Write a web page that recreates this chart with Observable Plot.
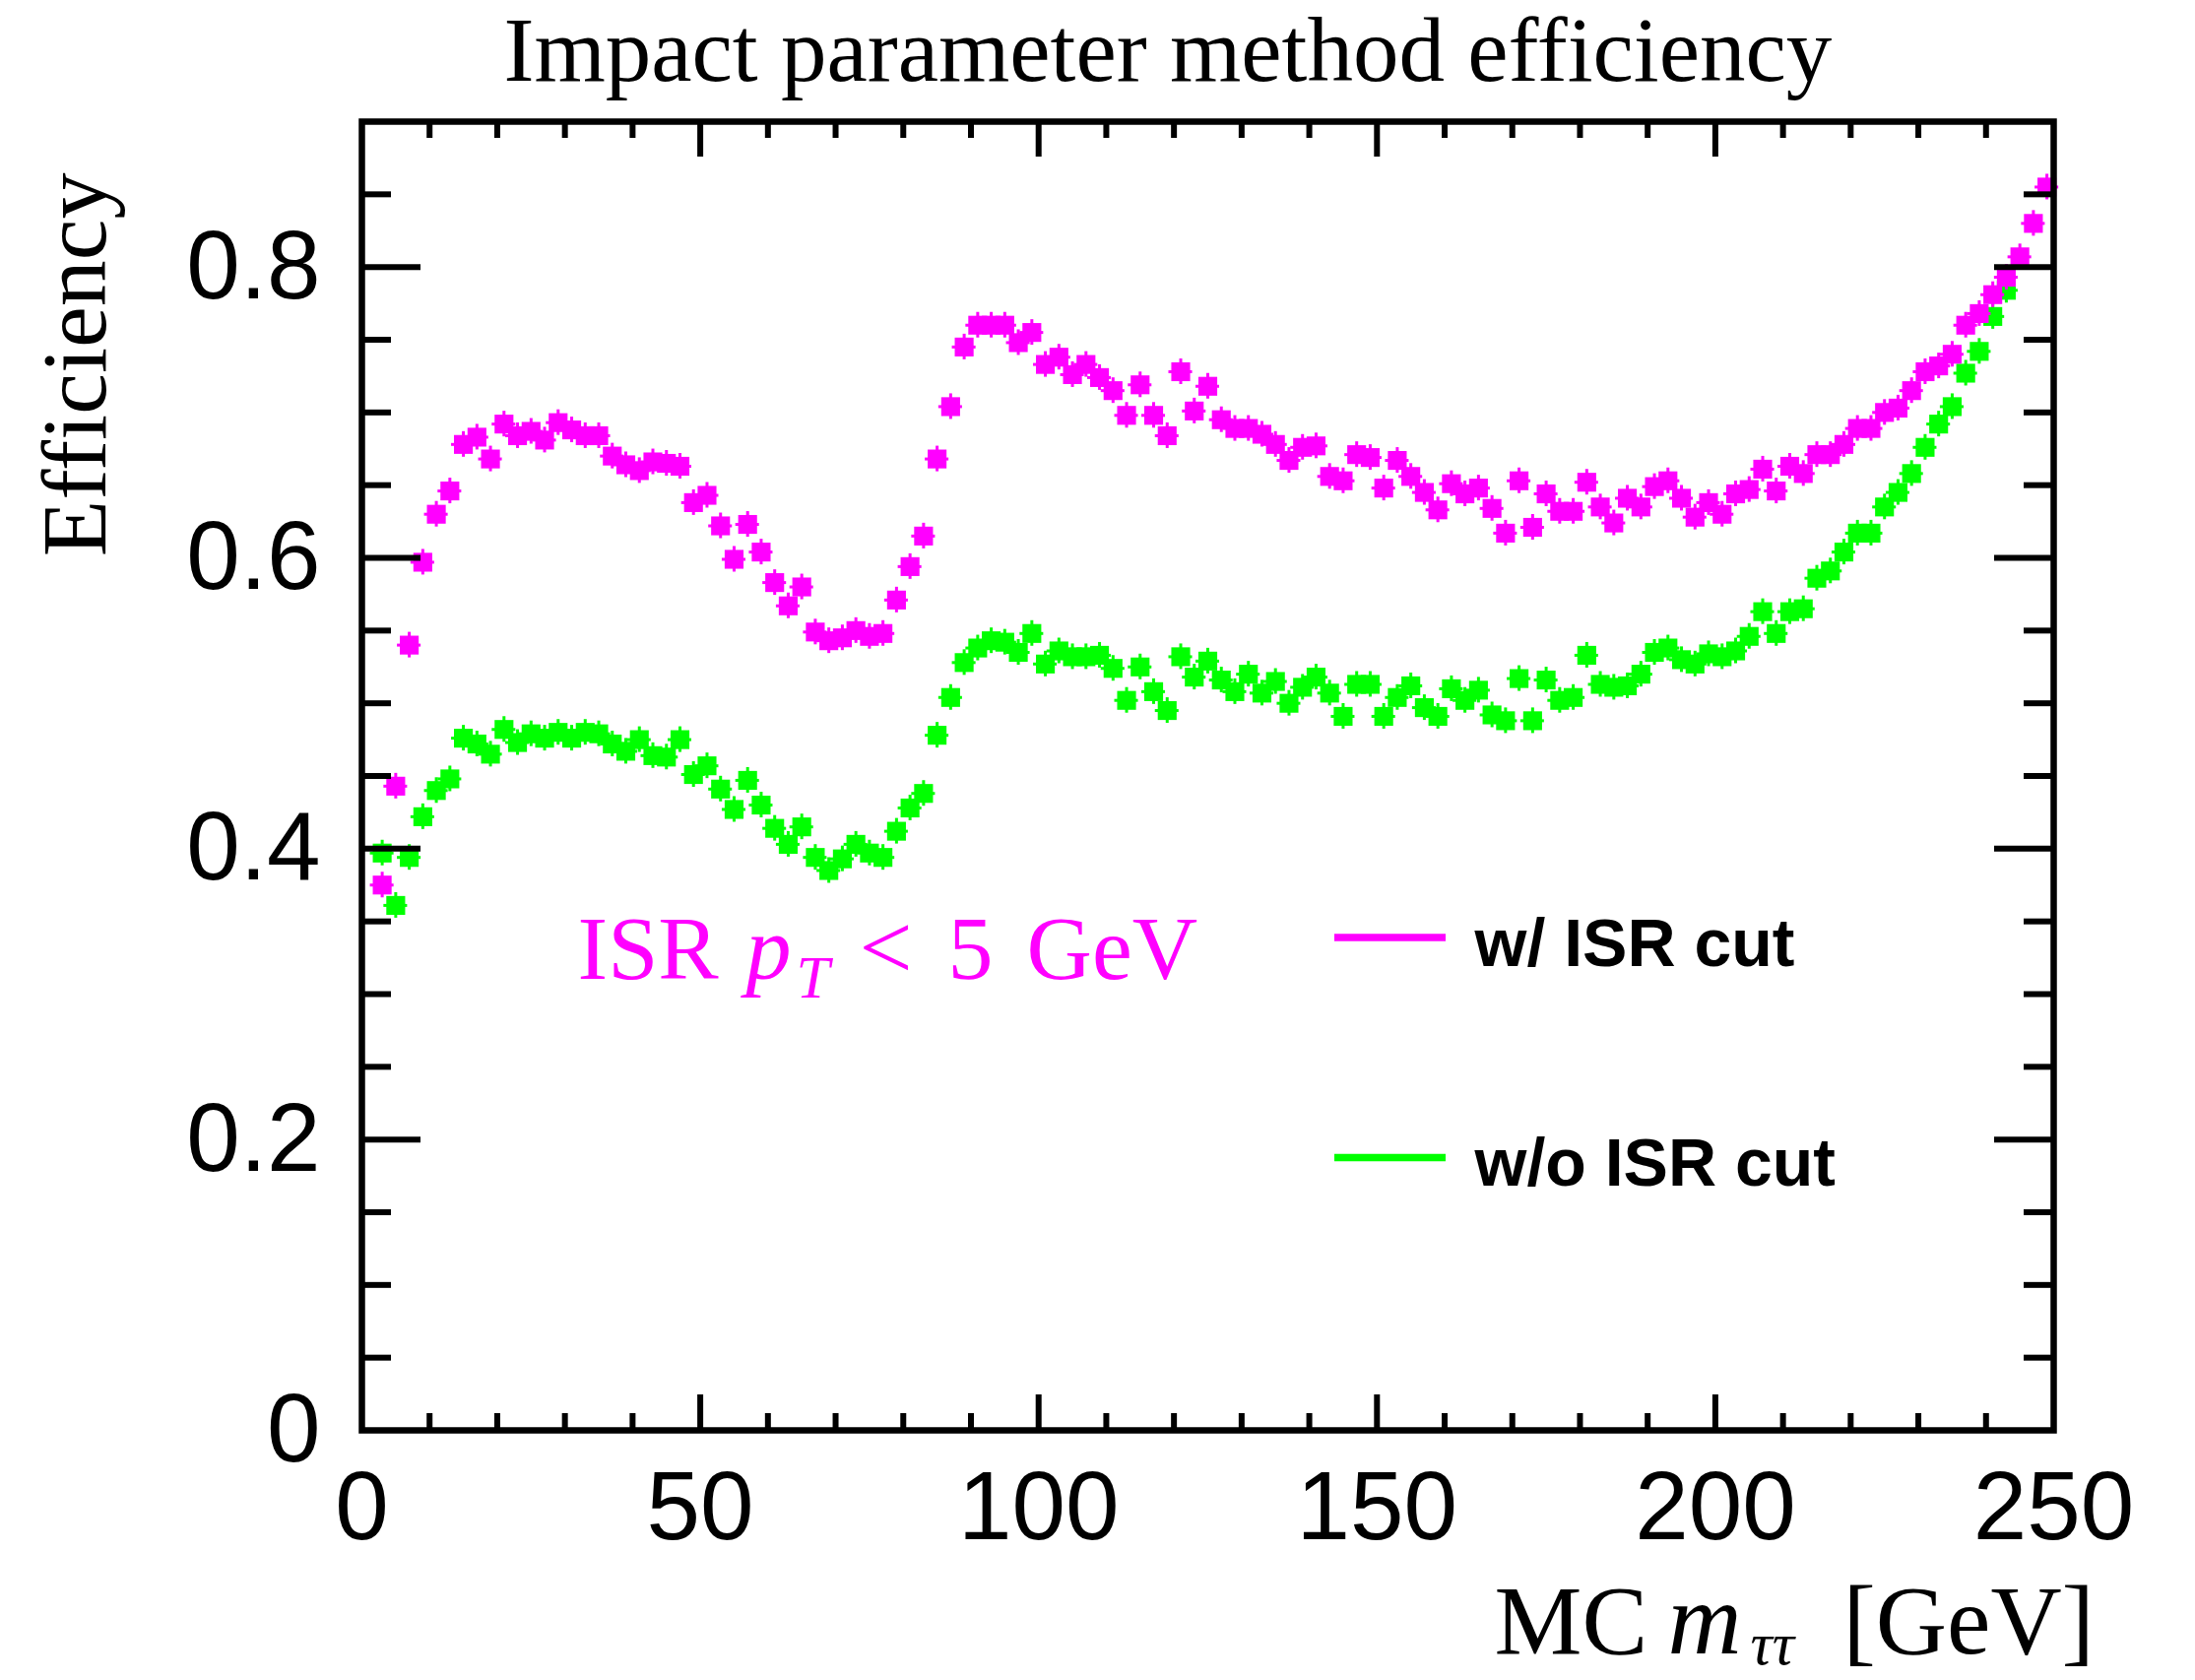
<!DOCTYPE html>
<html>
<head>
<meta charset="utf-8">
<script src="https://cdn.jsdelivr.net/npm/d3@7"></script>
<script src="https://cdn.jsdelivr.net/npm/@observablehq/plot@0.6"></script>
<style>
  html, body { margin: 0; padding: 0; background: #fff; overflow: hidden; }
  #chart svg { display: block; }
</style>
</head>
<body>
<div id="chart"></div>
<script>
// MC di-tau mass bin centres [GeV] (2 GeV bins)
const massBins = [
  3, 5, 7, 9, 11, 13, 15, 17, 19, 21, 23, 25, 27, 29, 31, 33, 35, 37, 39, 41,
  43, 45, 47, 49, 51, 53, 55, 57, 59, 61, 63, 65, 67, 69, 71, 73, 75, 77, 79, 81,
  83, 85, 87, 89, 91, 93, 95, 97, 99, 101, 103, 105, 107, 109, 111, 113, 115, 117, 119, 121,
  123, 125, 127, 129, 131, 133, 135, 137, 139, 141, 143, 145, 147, 149, 151, 153, 155, 157, 159, 161,
  163, 165, 167, 169, 171, 173, 175, 177, 179, 181, 183, 185, 187, 189, 191, 193, 195, 197, 199, 201,
  203, 205, 207, 209, 211, 213, 215, 217, 219, 221, 223, 225, 227, 229, 231, 233, 235, 237, 239, 241,
  243, 245, 247, 249
];

// efficiency with the ISR pT < 5 GeV requirement
const effWithCut = [
  0.375, 0.443, 0.540, 0.597, 0.630, 0.646, 0.678, 0.683, 0.668, 0.692,
  0.684, 0.687, 0.681, 0.693, 0.688, 0.684, 0.684, 0.670, 0.664, 0.660,
  0.666, 0.665, 0.663, 0.638, 0.643, 0.622, 0.599, 0.623, 0.604, 0.583,
  0.567, 0.580, 0.549, 0.543, 0.545, 0.550, 0.546, 0.548, 0.571, 0.594,
  0.615, 0.668, 0.704, 0.745, 0.760, 0.760, 0.760, 0.748, 0.755, 0.733,
  0.738, 0.726, 0.733, 0.724, 0.715, 0.698, 0.719, 0.698, 0.684, 0.728,
  0.701, 0.718, 0.695, 0.689, 0.689, 0.685, 0.678, 0.667, 0.676, 0.677,
  0.656, 0.653, 0.671, 0.669, 0.648, 0.667, 0.656, 0.645, 0.633, 0.651,
  0.644, 0.648, 0.634, 0.617, 0.653, 0.621, 0.644, 0.632, 0.632, 0.652,
  0.635, 0.624, 0.641, 0.635, 0.649, 0.653, 0.641, 0.628, 0.638, 0.630,
  0.644, 0.647, 0.661, 0.646, 0.663, 0.658, 0.671, 0.671, 0.678, 0.689,
  0.689, 0.700, 0.703, 0.715, 0.728, 0.732, 0.740, 0.760, 0.768, 0.781,
  0.793, 0.807, 0.830, 0.855
];

// efficiency without the ISR requirement (last bins hidden under the other series)
const effWithoutCut = [
  0.397, 0.361, 0.394, 0.422, 0.440, 0.448, 0.476, 0.472, 0.465, 0.482,
  0.473, 0.479, 0.476, 0.480, 0.476, 0.480, 0.479, 0.472, 0.467, 0.475,
  0.464, 0.463, 0.475, 0.451, 0.457, 0.441, 0.427, 0.447, 0.430, 0.414,
  0.403, 0.415, 0.394, 0.385, 0.393, 0.403, 0.397, 0.394, 0.412, 0.428,
  0.438, 0.478, 0.504, 0.528, 0.538, 0.543, 0.542, 0.535, 0.548, 0.527,
  0.536, 0.532, 0.532, 0.533, 0.524, 0.502, 0.525, 0.508, 0.495, 0.532,
  0.518, 0.529, 0.516, 0.508, 0.520, 0.507, 0.515, 0.500, 0.511, 0.518,
  0.507, 0.491, 0.513, 0.513, 0.491, 0.504, 0.512, 0.497, 0.491, 0.510,
  0.502, 0.509, 0.492, 0.488, 0.517, 0.488, 0.516, 0.502, 0.504, 0.533,
  0.513, 0.511, 0.512, 0.520, 0.535, 0.538, 0.530, 0.527, 0.534, 0.532,
  0.536, 0.546, 0.563, 0.548, 0.563, 0.565, 0.586, 0.591, 0.604, 0.617,
  0.617, 0.635, 0.645, 0.658, 0.676, 0.692, 0.704, 0.727, 0.742, 0.766,
  0.784
];

// axis ticks
const xLabelTicks = [0, 50, 100, 150, 200, 250];
const xMajorTicks = [50, 100, 150, 200];
const xMinorTicks = [10, 20, 30, 40, 60, 70, 80, 90, 110, 120, 130, 140, 160, 170, 180, 190, 210, 220, 230, 240];
const yLabelTicks = [0, 0.2, 0.4, 0.6, 0.8];
const yMajorTicks = [0.2, 0.4, 0.6, 0.8];
const yMinorTicks = [0.05, 0.1, 0.15, 0.25, 0.3, 0.35, 0.45, 0.5, 0.55, 0.65, 0.7, 0.75, 0.85];

const seriesNames = ["w/ ISR cut", "w/o ISR cut"];
const seriesColors = ["#ff00ff", "#00ff00"];

// layout
const W = 2229, H = 1706;
const M = {left: 367, right: 144, top: 123, bottom: 254};
const FW = W - M.left - M.right;   // frame width
const FH = H - M.top - M.bottom;   // frame height
const X_MAJOR = 36, X_MINOR = 17, Y_MAJOR = 60, Y_MINOR = 30, TICK_W = 6;
const ERR_Y = 0.0088, ERR_X = 1.75;

const withCut = massBins.map((m, i) => ({m, v: effWithCut[i]}));
const withoutCut = effWithoutCut.map((v, i) => ({m: massBins[i], v}));

const serif = "'Liberation Serif', 'Times New Roman', serif";
const sans = "'Liberation Sans', Arial, Helvetica, sans-serif";

function seriesMarks(data, color) {
  return [
    Plot.ruleX(data, {x: "m", y1: d => d.v - ERR_Y, y2: d => d.v + ERR_Y, stroke: color, strokeWidth: 3}),
    Plot.ruleY(data, {y: "v", x1: d => d.m - ERR_X, x2: d => d.m + ERR_X, stroke: color, strokeWidth: 3}),
    Plot.dot(data, {x: "m", y: "v", symbol: "square", r: 10.8, fill: color, stroke: null})
  ];
}

// legend line swatches
function legendSwatches() {
  const ns = "http://www.w3.org/2000/svg";
  const g = document.createElementNS(ns, "g");
  const rows = [952, 1175.5];
  seriesColors.forEach((c, i) => {
    const l = document.createElementNS(ns, "line");
    l.setAttribute("x1", 1355); l.setAttribute("x2", 1468);
    l.setAttribute("y1", rows[i]); l.setAttribute("y2", rows[i]);
    l.setAttribute("stroke", c); l.setAttribute("stroke-width", 7.5);
    g.appendChild(l);
  });
  return g;
}

function label(text, opts) {
  return Plot.text([text], {frameAnchor: "top-left", textAnchor: "start", lineAnchor: "bottom", fill: "black", ...opts});
}

const chart = Plot.plot({
  width: W, height: H,
  marginLeft: M.left, marginRight: M.right, marginTop: M.top, marginBottom: M.bottom,
  style: {fontFamily: sans, fontSize: "98px", background: "white", color: "black"},
  x: {domain: [0, 250], ticks: xLabelTicks, tickSize: 0, tickPadding: 41, tickFormat: d => String(d), label: null},
  y: {domain: [0, 0.9], ticks: yLabelTicks, tickSize: 0, tickPadding: 42,
      tickFormat: d => d === 0 ? "0" : d3.format(".1f")(d), label: null},
  marks: [
    ...seriesMarks(withoutCut, seriesColors[1]),
    ...seriesMarks(withCut, seriesColors[0]),

    // inward ticks on all four sides
    Plot.ruleX(xMajorTicks, {insetTop: FH - X_MAJOR, stroke: "black", strokeWidth: TICK_W}),
    Plot.ruleX(xMinorTicks, {insetTop: FH - X_MINOR, stroke: "black", strokeWidth: TICK_W}),
    Plot.ruleX(xMajorTicks, {insetBottom: FH - X_MAJOR, stroke: "black", strokeWidth: TICK_W}),
    Plot.ruleX(xMinorTicks, {insetBottom: FH - X_MINOR, stroke: "black", strokeWidth: TICK_W}),
    Plot.ruleY(yMajorTicks, {insetRight: FW - Y_MAJOR, stroke: "black", strokeWidth: TICK_W}),
    Plot.ruleY(yMinorTicks, {insetRight: FW - Y_MINOR, stroke: "black", strokeWidth: TICK_W}),
    Plot.ruleY(yMajorTicks, {insetLeft: FW - Y_MAJOR, stroke: "black", strokeWidth: TICK_W}),
    Plot.ruleY(yMinorTicks, {insetLeft: FW - Y_MINOR, stroke: "black", strokeWidth: TICK_W}),
    Plot.frame({stroke: "black", strokeWidth: 6.5}),

    // title
    label("Impact parameter method efficiency", {dx: 144, dy: -42, fontFamily: serif, fontSize: 93}),

    // y-axis title
    Plot.text(["Efficiency"], {frameAnchor: "top-left", dx: -261, dy: 52, rotate: -90, textAnchor: "end",
      lineAnchor: "bottom", fontFamily: serif, fontSize: 94, fill: "black"}),

    // x-axis title: MC m_ττ [GeV]
    label("MC", {dx: 1150, dy: 1555, fontFamily: serif, fontSize: 100}),
    label("m", {dx: 1326, dy: 1555, fontFamily: serif, fontSize: 104, fontStyle: "italic"}),
    label("ττ", {dx: 1410, dy: 1566, fontFamily: serif, fontSize: 62, fontStyle: "italic"}),
    label("[GeV]", {dx: 1504, dy: 1555, fontFamily: serif, fontSize: 100}),

    // selection annotation: ISR p_T < 5 GeV
    label("ISR", {dx: 219, dy: 870, fontFamily: serif, fontSize: 92, fill: "#ff00ff"}),
    label("p", {dx: 390, dy: 870, fontFamily: serif, fontSize: 92, fontStyle: "italic", fill: "#ff00ff"}),
    label("T", {dx: 441, dy: 889, fontFamily: serif, fontSize: 61, fontStyle: "italic", fill: "#ff00ff"}),
    label("<", {dx: 505, dy: 870, fontFamily: serif, fontSize: 96, fill: "#ff00ff"}),
    label("5", {dx: 595, dy: 870, fontFamily: serif, fontSize: 92, fill: "#ff00ff"}),
    label("GeV", {dx: 675, dy: 870, fontFamily: serif, fontSize: 92, fill: "#ff00ff"}),

    // legend
    legendSwatches,
    label(seriesNames[0], {dx: 1130, dy: 857, fontFamily: sans, fontWeight: "bold", fontSize: 68}),
    label(seriesNames[1], {dx: 1130, dy: 1080, fontFamily: sans, fontWeight: "bold", fontSize: 68})
  ]
});

document.getElementById("chart").appendChild(chart);
</script>
</body>
</html>
